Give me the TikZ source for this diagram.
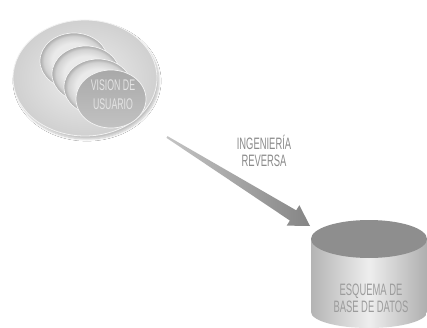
\documentclass[tikz,border=0pt]{standalone}
\usepackage{fontspec}
\setmainfont{Liberation Sans}[FakeStretch=0.57]
\usetikzlibrary{calc,shadows.blur}
\definecolor{outerIn}{HTML}{EEEEEE}
\definecolor{outerOut}{HTML}{D0D0D0}
\definecolor{cL}{HTML}{EAEAEA}
\definecolor{cM}{HTML}{D2D2D2}
\definecolor{cD}{HTML}{ABABAB}
\definecolor{frontTop}{HTML}{A9A9A9}
\definecolor{frontBot}{HTML}{C2C2C2}
\definecolor{arrowDark}{HTML}{858585}
\definecolor{arrowLight}{HTML}{C4C4C4}
\definecolor{txtGray}{HTML}{8C8C8C}
\definecolor{dbTop}{HTML}{8E8E8E}
\definecolor{dbEdge}{HTML}{B4B4B4}
\definecolor{dbMid}{HTML}{EEEEEE}
\definecolor{dbTxt}{HTML}{9C9C9C}
\definecolor{userTxt}{HTML}{E4E4E4}
\pgfdeclareradialshading{crescent}{\pgfpoint{0bp}{0bp}}{color(0bp)=(cL); color(16bp)=(cL); color(22bp)=(cM); color(25bp)=(cD); color(50bp)=(cD)}
\tikzset{
  backell/.style={shading=crescent, draw=white!92!gray, line width=0.7pt},
  lbltext/.style={align=center, text=txtGray, font=\fontsize{16.5}{16.5}\selectfont, inner sep=0pt},
  usertext/.style={align=center, text=userTxt, font=\fontsize{15.4}{19}\selectfont, inner sep=0pt},
  dbtext/.style={align=center, text=dbTxt, font=\fontsize{16.5}{17}\selectfont, inner sep=0pt}
}
\begin{document}
\begin{tikzpicture}[x=1pt,y=1pt]
\useasboundingbox (0,0) rectangle (427,-328);
\fill[white] (0,0) rectangle (427,-328);

% outer ellipse
\shade[inner color=outerIn, outer color=outerOut, draw=white!90!gray, line width=0.8pt,
  blur shadow={shadow xshift=2pt, shadow yshift=-3pt, shadow blur steps=8, shadow opacity=25}]
  (85,-78) ellipse [x radius=72, y radius=58];

% stacked ellipses
\shade[backell] (74,-61) ellipse [x radius=34, y radius=28];
\shade[backell] (86,-74) ellipse [x radius=34, y radius=28];
\shade[backell] (98,-87) ellipse [x radius=34, y radius=28];
\shade[top color=frontTop, bottom color=frontBot, draw=white!92!gray, line width=0.7pt]
  (111,-99) ellipse [x radius=35, y radius=29];
\node[usertext] (user) at (113,-95) {VISION DE\\USUARIO};

% arrow
\coordinate (s) at (167,-137);
\coordinate (t) at (310,-226);
\coordinate (b) at ($(t)!20pt!(s)$);
\shade[left color=arrowLight, right color=arrowDark]
  ($(s)!1pt!-90:(t)$) -- ($(b)!6pt!90:(s)$) -- ($(b)!12pt!90:(s)$) -- (t)
  -- ($(b)!12pt!-90:(s)$) -- ($(b)!6pt!-90:(s)$) -- ($(s)!1pt!90:(t)$) -- cycle;
\node[lbltext] (lbl) at (264,-151) {INGENIERÍA\\REVERSA};

% database cylinder
\shade[left color=dbEdge, right color=dbEdge!90!gray, middle color=dbMid]
  (311,-240) -- (311,-312) arc[start angle=180, end angle=360, x radius=58, y radius=16]
  -- (427,-240) arc[start angle=0, end angle=180, x radius=58, y radius=18] -- cycle;
\fill[dbTop] (369,-239) ellipse [x radius=58, y radius=19];
\node[dbtext] (db) at (371,-298) {ESQUEMA DE\\BASE DE DATOS};
\end{tikzpicture}
\end{document}
